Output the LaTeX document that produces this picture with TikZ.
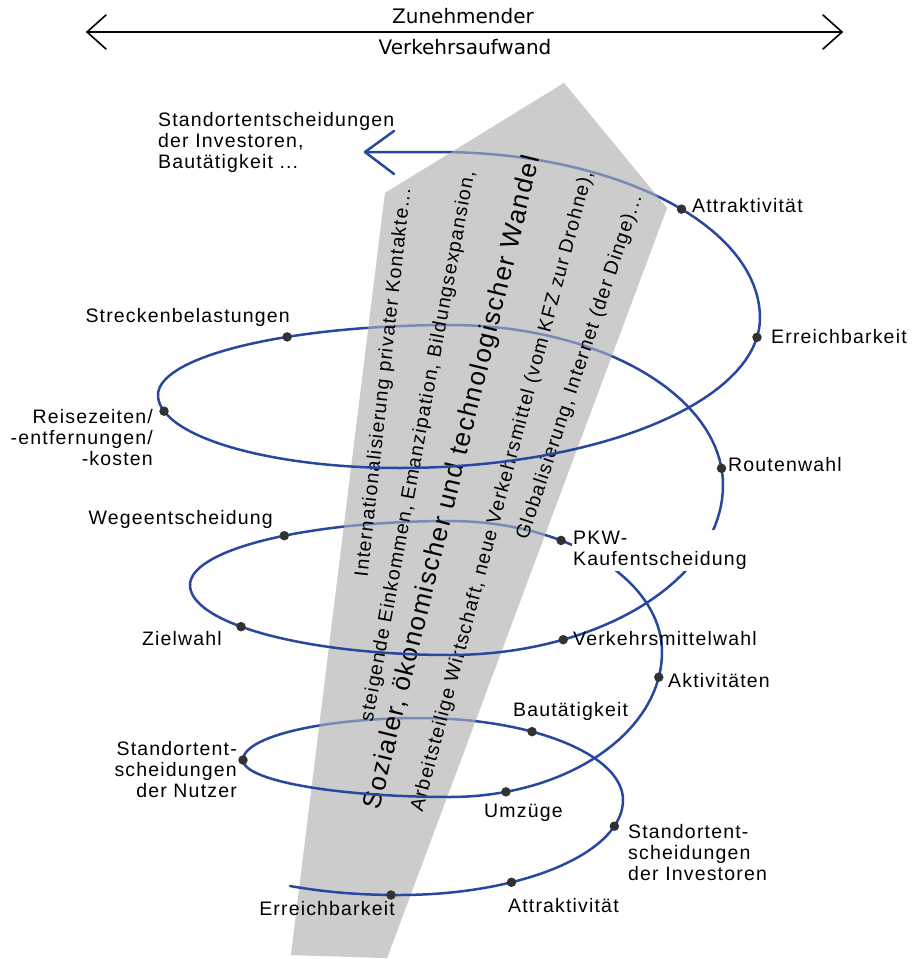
\documentclass[tikz,border=0pt]{standalone}
\usepackage{fontspec}
\setmainfont[LetterSpace=6.0]{Liberation Sans}
\newfontfamily\topfont{DejaVu Sans}
\definecolor{hblue}{RGB}{40,72,160}
\definecolor{bandc}{RGB}{204,204,204}
\definecolor{dotc}{RGB}{50,50,50}
\begin{document}
\begin{tikzpicture}[x=1pt,y=-1pt,
  spiral/.style={draw=hblue,line width=2.5pt,line cap=round,line join=round},
  dotn/.style={circle,fill=dotc,inner sep=0pt,minimum size=9.5pt},
  lbl/.style={inner sep=0pt,font=\fontsize{19.5}{21}\selectfont,align=left},
  lblr/.style={lbl,align=right},
  bandtxt/.style={inner sep=0pt,font=\fontsize{19.5}{21}\selectfont,anchor=mid west},
  hdr/.style={inner sep=0pt,anchor=base,font=\topfont\fontsize{20}{24}\selectfont},
  harrow/.style={line width=1.6pt,line cap=round,line join=round},
  ps/.style={samples=40,variable=\t}]
\useasboundingbox (0,0) rectangle (923,959);
\fill[white] (0,0) rectangle (923,959);

% header arrow
\coordinate (hl) at (87,32);
\coordinate (hr) at (842,32);
\draw[harrow] (hl) -- (hr);
\draw[harrow] (106,15) -- (hl) -- (106,49);
\draw[harrow] (823,15) -- (hr) -- (823,49);
\node[hdr] (h1) at (463,23) {Zunehmender};
\node[hdr] (h2) at (465,54) {Verkehrsaufwand};

% band
\path[fill=bandc] (564,83) -- (667,208) -- (387,958) -- (291,955) -- (385,193) -- cycle;

% back halves
\coordinate (tip) at (365,152);
\draw[spiral] plot[ps,domain=0:-90]({420+203*cos(\t)},{800+82*sin(\t)})
  -- plot[ps,domain=-90:-180]({420+177*cos(\t)},{760+42*sin(\t)});
\draw[spiral] plot[ps,domain=0:-90]({450+212*cos(\t)},{652+131*sin(\t)})
  -- plot[ps,domain=-90:-180]({450+260*cos(\t)},{585+64*sin(\t)});
\draw[spiral] plot[ps,domain=0:-90]({450+273*cos(\t)},{485+160*sin(\t)})
  -- plot[ps,domain=-90:-180]({450+292*cos(\t)},{395+70*sin(\t)});
\draw[spiral] plot[ps,domain=0:-90]({440+320*cos(\t)},{318+166*sin(\t)}) -- (tip);
\draw[spiral] (394,131) -- (tip) -- (394,174);

% band veil
\path[fill=bandc,fill opacity=0.5] (564,83) -- (667,208) -- (387,958) -- (291,955) -- (385,193) -- cycle;

% band texts
\node[bandtxt,rotate=83.7] (t1) at (365,577) {Internationalisierung privater Kontakte...};
\node[bandtxt,rotate=79.5] (t2) at (370,722) {steigende Einkommen, Emanzipation, Bildungsexpansion,};
\node[bandtxt,rotate=76.2,font=\fontsize{26}{28}\selectfont] (t3) at (377,810) {Sozialer, ökonomischer und technologischer Wandel};
\node[bandtxt,rotate=75.1] (t4) at (420,812) {Arbeitsteilige Wirtschaft, neue Verkehrsmittel (vom KFZ zur Drohne),};
\node[bandtxt,rotate=71.6] (t5) at (525,540) {Globalisierung, Internet (der Dinge)...};

% front halves
\draw[spiral] (290,886) .. controls (330,893) and (365,895) .. (400,895)
  -- plot[ps,domain=90:0]({400+223*cos(\t)},{800+95*sin(\t)});
\draw[spiral] plot[ps,domain=180:90]({450+207*cos(\t)},{760+37*sin(\t)})
  -- plot[ps,domain=90:0]({450+212*cos(\t)},{652+145*sin(\t)});
\draw[spiral] plot[ps,domain=180:90]({450+260*cos(\t)},{585+70*sin(\t)})
  -- plot[ps,domain=90:0]({450+273*cos(\t)},{485+170*sin(\t)});
\draw[spiral] plot[ps,domain=180:90]({400+242*cos(\t)},{395+73*sin(\t)})
  -- plot[ps,domain=90:0]({400+360*cos(\t)},{318+150*sin(\t)});

% dots
\node[dotn] (dE1) at (391,895) {};
\node[dotn] (dA1) at ({400+223*cos(60)},{800+95*sin(60)}) {};
\node[dotn] (dSI) at ({400+223*cos(16)},{800+95*sin(16)}) {};
\node[dotn] (dBau) at ({420+203*cos(-56.5)},{800+82*sin(-56.5)}) {};
\node[dotn] (dSN) at (243,760) {};
\node[dotn] (dUm) at ({450+212*cos(74.7)},{652+145*sin(74.7)}) {};
\node[dotn] (dAkt) at ({450+212*cos(10)},{652+145*sin(10)}) {};
\node[dotn] (dPKW) at ({450+212*cos(-58.4)},{652+131*sin(-58.4)}) {};
\node[dotn] (dWeg) at ({450+260*cos(-129.6)},{585+64*sin(-129.6)}) {};
\node[dotn] (dZiel) at ({450+260*cos(143.5)},{585+70*sin(143.5)}) {};
\node[dotn] (dVM) at ({450+273*cos(65.5)},{485+170*sin(65.5)}) {};
\node[dotn] (dRoute) at ({450+273*cos(-6)},{485+160*sin(-6)}) {};
\node[dotn] (dStr) at ({450+292*cos(-123.9)},{395+70*sin(-123.9)}) {};
\node[dotn] (dRei) at ({400+242*cos(167.2)},{395+73*sin(167.2)}) {};
\node[dotn] (dErr2) at ({400+360*cos(7.4)},{318+150*sin(7.4)}) {};
\node[dotn] (dAtt2) at ({440+320*cos(-41)},{318+166*sin(-41)}) {};

% labels
\node[lbl,anchor=north west] (lTop) at (158,112) {Standortentscheidungen\\der Investoren,\\Bautätigkeit ...};
\node[lbl,anchor=base west] (lAtt2) at (692,212) {Attraktivität};
\node[lbl,anchor=base west] (lErr2) at (771,343) {Erreichbarkeit};
\node[lbl,anchor=base east] (lStr) at (290,322) {Streckenbelastungen};
\node[lblr,anchor=north east] (lRei) at (153,409) {Reisezeiten/\\-entfernungen/\\-kosten};
\node[lbl,anchor=base west] (lRoute) at (728,471) {Routenwahl};
\node[lbl,anchor=base east] (lWeg) at (273,524) {Wegeentscheidung};
\node[lbl,anchor=north west,fill=white,inner sep=1.5pt] (lPKW) at (571.5,529.5) {PKW-\\Kaufentscheidung};
\node[lbl,anchor=base east] (lZiel) at (222,645) {Zielwahl};
\node[lbl,anchor=base west] (lVM) at (573,645) {Verkehrsmittelwahl};
\node[lbl,anchor=base west] (lAkt) at (668,687) {Aktivitäten};
\node[lbl,anchor=base west] (lBau) at (513,716) {Bautätigkeit};
\node[lblr,anchor=north east] (lSN) at (237,741) {Standortent-\\scheidungen\\der Nutzer};
\node[lbl,anchor=base west] (lUm) at (484,817) {Umzüge};
\node[lbl,anchor=north west] (lSI) at (628,824) {Standortent-\\scheidungen\\der Investoren};
\node[lbl,anchor=base east] (lE1) at (395,915) {Erreichbarkeit};
\node[lbl,anchor=base west] (lA1) at (508,912) {Attraktivität};
\end{tikzpicture}
\end{document}
